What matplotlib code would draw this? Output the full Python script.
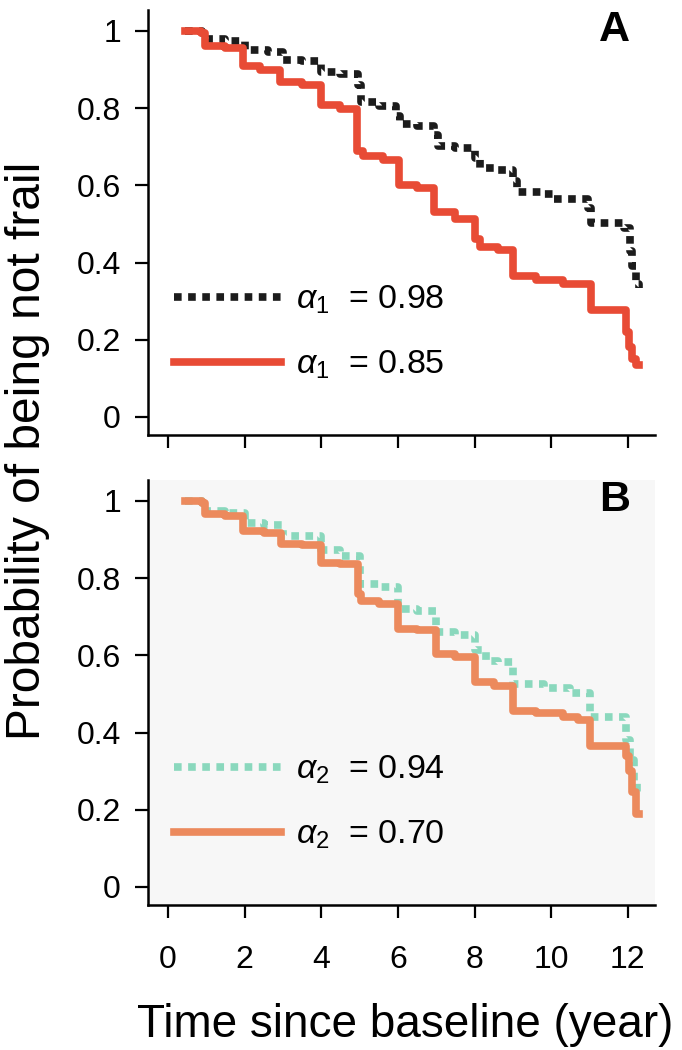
import matplotlib
matplotlib.use("Agg")
import matplotlib.pyplot as plt
import numpy as np

plt.rcParams['font.family'] = ['Liberation Sans', 'DejaVu Sans']
plt.rcParams['mathtext.fontset'] = 'custom'
plt.rcParams['mathtext.it'] = 'Liberation Sans:italic'
plt.rcParams['mathtext.rm'] = 'Liberation Sans'

# panel A: step survival curves (time in years, probability not frail)
t_a1_hi = [0.45, 0.90, 1.00, 1.50, 2.00, 2.60, 3.00, 3.50, 4.00, 4.50, 4.95, 5.05,
           5.50, 5.95, 6.05, 6.50, 6.95, 7.05, 7.50, 8.00, 8.15, 8.50, 9.00, 9.10,
           9.80, 10.05, 10.95, 11.05, 11.90, 12.05, 12.12, 12.20, 12.30]
s_a1_hi = [1.000, 0.995, 0.978, 0.975, 0.950, 0.945, 0.925, 0.922, 0.895, 0.888, 0.860, 0.815,
           0.805, 0.780, 0.758, 0.755, 0.730, 0.703, 0.698, 0.670, 0.645, 0.640, 0.610, 0.582,
           0.578, 0.565, 0.540, 0.503, 0.490, 0.430, 0.390, 0.345, 0.335]

t_a1_lo = [0.45, 0.85, 0.97, 1.50, 1.95, 2.40, 2.92, 3.50, 3.99, 4.50, 4.92, 5.10,
           5.60, 6.02, 6.50, 6.95, 7.50, 8.00, 8.15, 8.60, 9.00, 9.60, 10.30, 11.05,
           11.96, 12.02, 12.12, 12.20, 12.30]
s_a1_lo = [1.000, 0.995, 0.960, 0.955, 0.908, 0.900, 0.868, 0.860, 0.808, 0.798, 0.690, 0.675,
           0.665, 0.602, 0.594, 0.530, 0.512, 0.462, 0.440, 0.433, 0.365, 0.355, 0.345, 0.278,
           0.220, 0.180, 0.150, 0.135, 0.135]

# panel B
t_a2_hi = [0.45, 0.90, 1.00, 1.50, 2.00, 2.50, 3.00, 3.50, 4.00, 4.50, 5.00, 5.50,
           6.00, 6.50, 7.00, 7.50, 8.00, 8.30, 8.60, 9.00, 9.80, 10.50, 11.00, 11.95,
           12.05, 12.15, 12.25]
s_a2_hi = [1.000, 0.995, 0.974, 0.970, 0.942, 0.938, 0.910, 0.908, 0.872, 0.858, 0.786, 0.778,
           0.720, 0.715, 0.660, 0.652, 0.615, 0.585, 0.582, 0.525, 0.515, 0.502, 0.440, 0.380,
           0.330, 0.270, 0.240]

t_a2_lo = [0.45, 0.88, 0.97, 1.50, 1.95, 2.50, 2.95, 3.50, 4.00, 4.50, 4.95, 5.05,
           5.50, 6.00, 6.50, 7.00, 7.50, 8.00, 8.50, 9.00, 9.60, 10.30, 10.70, 11.00,
           11.96, 12.02, 12.10, 12.20, 12.30]
s_a2_lo = [1.000, 0.995, 0.965, 0.962, 0.922, 0.918, 0.888, 0.885, 0.840, 0.836, 0.760, 0.740,
           0.732, 0.668, 0.665, 0.603, 0.595, 0.530, 0.520, 0.457, 0.450, 0.440, 0.433, 0.364,
           0.340, 0.300, 0.245, 0.190, 0.190]

labels_a = [r'$\alpha_1$  = 0.98', r'$\alpha_1$  = 0.85']
labels_b = [r'$\alpha_2$  = 0.94', r'$\alpha_2$  = 0.70']
yticks = [0, 0.2, 0.4, 0.6, 0.8, 1]
yticklabels = ['0', '0.2', '0.4', '0.6', '0.8', '1']
xticks = [0, 2, 4, 6, 8, 10, 12]

c_black = '#1c1c1c'
c_red = '#e84b35'
c_teal = '#8ad8bd'
c_orange = '#ec8a5d'

fig = plt.figure(figsize=(6.82, 10.5), dpi=100)
axA = fig.add_axes([0.217, 0.5857, 0.743, 0.405])
axB = fig.add_axes([0.217, 0.1381, 0.743, 0.405])

lw = 5.5
dot = (0, (1.0, 0.85))

axA.plot(t_a1_hi, s_a1_hi, drawstyle='steps-post', color=c_black, lw=lw,
         linestyle=dot, dash_capstyle='butt', label=labels_a[0])
axA.plot(t_a1_lo, s_a1_lo, drawstyle='steps-post', color=c_red, lw=lw,
         solid_joinstyle='round', label=labels_a[1])

axB.plot(t_a2_hi, s_a2_hi, drawstyle='steps-post', color=c_teal, lw=lw,
         linestyle=dot, dash_capstyle='butt', label=labels_b[0])
axB.plot(t_a2_lo, s_a2_lo, drawstyle='steps-post', color=c_orange, lw=lw,
         solid_joinstyle='round', label=labels_b[1])

axB.set_facecolor('#f7f7f7')

for ax, letter in [(axA, 'A'), (axB, 'B')]:
    ax.set_xlim(-0.52, 12.7)
    ax.set_ylim(-0.047, 1.055)
    ax.set_yticks(yticks)
    ax.set_yticklabels(yticklabels)
    ax.set_xticks(xticks)
    ax.spines['right'].set_visible(False)
    ax.spines['top'].set_visible(False)
    ax.spines['left'].set_linewidth(1.8)
    ax.spines['bottom'].set_linewidth(1.8)
    ax.tick_params(axis='both', which='major', length=9.5, width=1.6,
                   labelsize=23)
    ax.tick_params(axis='y', pad=10)
    ax.tick_params(axis='x', pad=19)
    ax.text(0.92, 0.953, letter, transform=ax.transAxes, fontsize=31,
            fontweight='bold', ha='center', va='center')
    ax.legend(loc='lower left', bbox_to_anchor=(-0.01, 0.055), frameon=False,
              fontsize=24.5, handlelength=3.15, handletextpad=0.45,
              labelspacing=0.95)

axA.tick_params(axis='x', labelbottom=False)

fig.text(0.041, 0.571, 'Probability of being not frail', rotation=90,
         fontsize=34.5, ha='center', va='center')
fig.text(0.594, 0.024, 'Time since baseline (year)', fontsize=33,
         ha='center', va='center')

fig.savefig('out.png', dpi=100)
